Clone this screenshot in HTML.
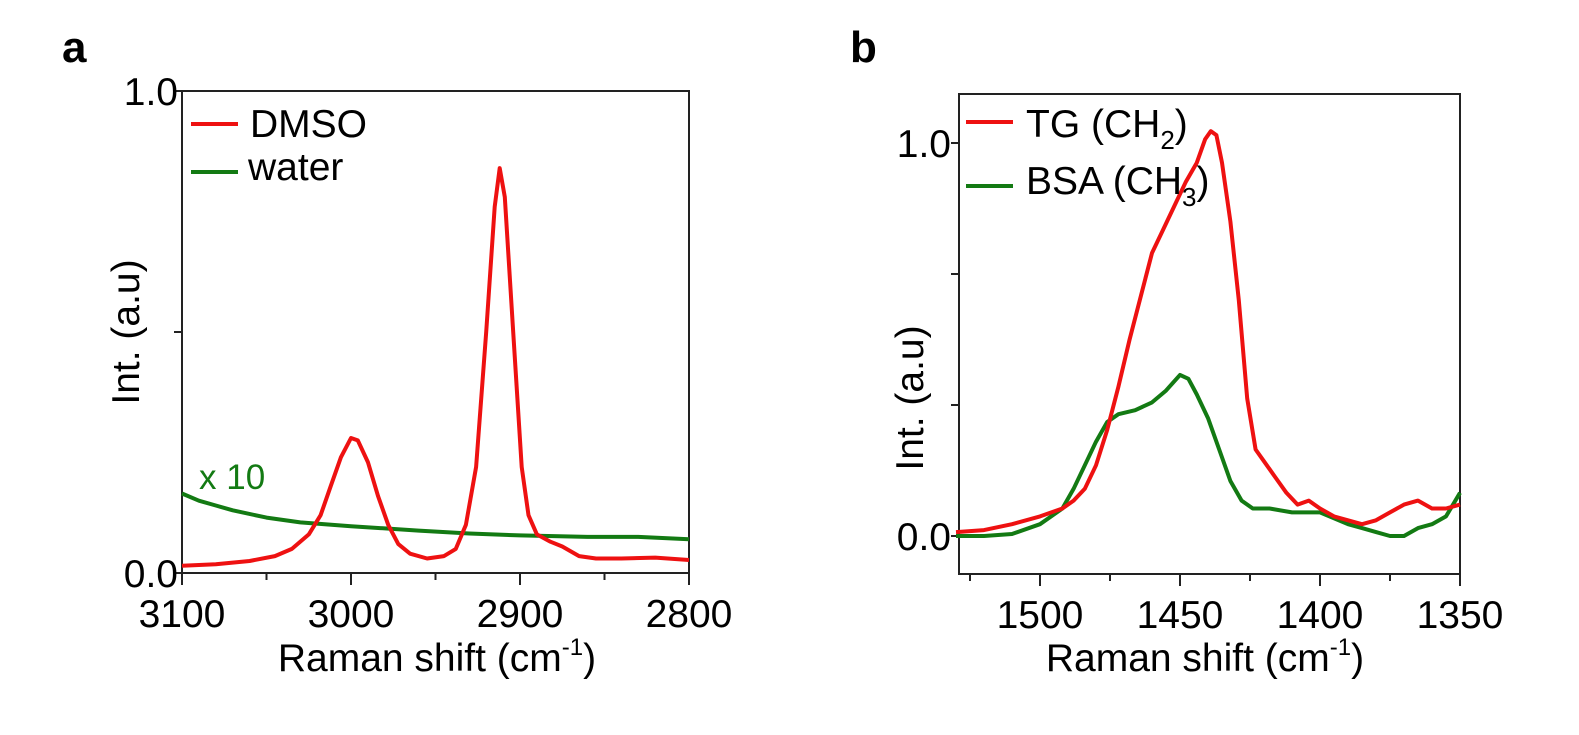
<!DOCTYPE html>
<html><head><meta charset="utf-8"><style>
body{margin:0;background:#fff}
svg{display:block;font-family:"Liberation Sans",Arial,sans-serif}
</style></head><body>
<svg width="1579" height="735" viewBox="0 0 1579 735">
<text x="62" y="62" font-size="44" font-weight="bold">a</text>
<text x="850" y="62" font-size="44" font-weight="bold">b</text>
<g id="pa"></g>
<g id="pb"></g>
</svg>
<script>
const aDmsoX=[3100,3080,3060,3045,3035,3025,3018,3012,3006,3000,2996,2990,2984,2978,2972,2965,2955,2945,2938,2932,2926,2920,2915,2912,2909,2904,2899,2895,2890,2882,2875,2865,2855,2840,2820,2800];
const aDmsoY=[0.015,0.018,0.025,0.035,0.05,0.08,0.12,0.18,0.24,0.28,0.275,0.23,0.16,0.10,0.06,0.04,0.03,0.035,0.05,0.10,0.22,0.50,0.76,0.84,0.78,0.50,0.22,0.12,0.08,0.065,0.055,0.035,0.03,0.03,0.032,0.027];
const aWaterX=[3100,3090,3080,3070,3050,3030,3000,2960,2930,2900,2860,2830,2800];
const aWaterY=[0.165,0.15,0.14,0.13,0.115,0.105,0.097,0.088,0.082,0.078,0.075,0.075,0.07];
const bTgX=[1530,1520,1510,1500,1492,1488,1484,1480,1476,1472,1468,1464,1460,1456,1452,1448,1444,1441,1439,1437,1435,1432,1429,1426,1423,1420,1416,1412,1408,1404,1400,1395,1390,1385,1380,1375,1370,1365,1360,1355,1350];
const bTgY=[0.01,0.015,0.03,0.05,0.07,0.09,0.12,0.18,0.27,0.38,0.50,0.61,0.72,0.78,0.84,0.90,0.95,1.01,1.03,1.02,0.95,0.80,0.60,0.35,0.22,0.19,0.15,0.11,0.08,0.09,0.07,0.05,0.04,0.03,0.04,0.06,0.08,0.09,0.07,0.07,0.08];
const bBsaX=[1530,1520,1510,1500,1492,1488,1484,1480,1476,1472,1466,1460,1455,1450,1447,1444,1440,1436,1432,1428,1424,1418,1410,1400,1395,1390,1385,1380,1375,1370,1365,1360,1355,1350];
const bBsaY=[0.0,0.0,0.005,0.03,0.07,0.12,0.18,0.24,0.29,0.31,0.32,0.34,0.37,0.41,0.40,0.36,0.30,0.22,0.14,0.09,0.07,0.07,0.06,0.06,0.045,0.03,0.02,0.01,0.0,0.0,0.02,0.03,0.05,0.11];
const aXTicks=[3100,3000,2900,2800];
const bXTicks=[1500,1450,1400,1350];

const NS="http://www.w3.org/2000/svg";
const FS=39;
function mk(p,t,at,txt){const e=document.createElementNS(NS,t);for(const k in at)e.setAttribute(k,at[k]);if(txt!==undefined)e.textContent=txt;p.appendChild(e);return e;}
function line(p,xs,ys,sx,sy,col,name){
 const d=xs.map((x,i)=>(i?'L':'M')+sx(x).toFixed(1)+' '+sy(ys[i]).toFixed(1)).join(' ');
 const e=mk(p,'path',{d:d,fill:'none',stroke:col,'stroke-width':4,'stroke-linejoin':'round'});
 
 
}
// Panel a
(function(){
 const g=document.getElementById('pa');
 const L=182,R=689,T=91,B=573;
 const sx=x=>L+(3100-x)/300*(R-L), sy=y=>B-y*(B-T);
 const f=mk(g,'rect',{x:L,y:T,width:R-L,height:B-T,fill:'none',stroke:'#222','stroke-width':2});
 
 [3050,2950,2850].forEach(v=>mk(g,'line',{x1:sx(v),x2:sx(v),y1:B,y2:B+7,stroke:'#222','stroke-width':2}));
 aXTicks.forEach(v=>{mk(g,'line',{x1:sx(v),x2:sx(v),y1:B,y2:B+12,stroke:'#222','stroke-width':2});
  const t=mk(g,'text',{x:sx(v),y:B+54,'font-size':FS,'text-anchor':'middle'},String(v));
  });
 [0,0.5,1].forEach(v=>mk(g,'line',{x1:L-8,x2:L,y1:sy(v),y2:sy(v),stroke:'#222','stroke-width':2}));
 [[0,'0.0'],[1,'1.0']].forEach(([v,s])=>{const t=mk(g,'text',{x:L-4,y:sy(v)+14,'font-size':FS,'text-anchor':'end'},s);
  });
 line(g,aWaterX,aWaterY,sx,sy,'#137a13','series-water');
 line(g,aDmsoX,aDmsoY,sx,sy,'#ee1111','series-dmso');
 const xt=mk(g,'text',{x:437,y:671,'font-size':FS,'text-anchor':'middle'});xt.innerHTML='Raman shift (cm<tspan dy="-16" font-size="24">-1</tspan><tspan dy="16">)</tspan>';
 
 const yt=mk(g,'text',{x:0,y:0,'font-size':FS,'text-anchor':'middle',transform:'translate(139,332) rotate(-90)'},'Int. (a.u)');
 
 mk(g,'line',{x1:191,x2:238,y1:124,y2:124,stroke:'#ee1111','stroke-width':4});
 const l1=mk(g,'text',{x:250,y:137,'font-size':FS},'DMSO');
 mk(g,'line',{x1:191,x2:238,y1:172,y2:172,stroke:'#137a13','stroke-width':4});
 const l2=mk(g,'text',{x:248,y:180,'font-size':FS},'water');
 const x10=mk(g,'text',{x:199,y:489,'font-size':35,fill:'#137a13'},'x 10');
})();
// Panel b
(function(){
 const g=document.getElementById('pb');
 const L=959,R=1460,T=94,B=574,Y0=536,Y1=143;
 const sx=x=>1040+(1500-x)/50*140, sy=y=>Y0-y*(Y0-Y1);
 const f=mk(g,'rect',{x:L,y:T,width:R-L,height:B-T,fill:'none',stroke:'#222','stroke-width':2});
 
 [1525,1475,1425,1375].forEach(v=>mk(g,'line',{x1:sx(v),x2:sx(v),y1:B,y2:B+7,stroke:'#222','stroke-width':2}));
 bXTicks.forEach(v=>{mk(g,'line',{x1:sx(v),x2:sx(v),y1:B,y2:B+12,stroke:'#222','stroke-width':2});
  const t=mk(g,'text',{x:sx(v),y:B+54,'font-size':FS,'text-anchor':'middle'},String(v));
  });
 [0,1/3,2/3,1].forEach(v=>mk(g,'line',{x1:L-8,x2:L,y1:sy(v),y2:sy(v),stroke:'#222','stroke-width':2}));
 [[0,'0.0'],[1,'1.0']].forEach(([v,s])=>{const t=mk(g,'text',{x:L-8,y:sy(v)+14,'font-size':FS,'text-anchor':'end'},s);
  });
 line(g,bBsaX,bBsaY,sx,sy,'#137a13','series-bsa');
 line(g,bTgX,bTgY,sx,sy,'#ee1111','series-tg');
 const xt=mk(g,'text',{x:1205,y:671,'font-size':FS,'text-anchor':'middle'});xt.innerHTML='Raman shift (cm<tspan dy="-16" font-size="24">-1</tspan><tspan dy="16">)</tspan>';
 
 const yt=mk(g,'text',{x:0,y:0,'font-size':FS,'text-anchor':'middle',transform:'translate(923,398) rotate(-90)'},'Int. (a.u)');
 
 mk(g,'line',{x1:966,x2:1013,y1:122,y2:122,stroke:'#ee1111','stroke-width':4});
 const l1=mk(g,'text',{x:1026,y:137,'font-size':FS});l1.innerHTML='TG (CH<tspan dy="12" font-size="26">2</tspan><tspan dy="-12">)</tspan>';
 
 mk(g,'line',{x1:966,x2:1013,y1:186,y2:186,stroke:'#137a13','stroke-width':4});
 const l2=mk(g,'text',{x:1026,y:194,'font-size':FS});l2.innerHTML='BSA (CH<tspan dy="12" font-size="26">3</tspan><tspan dy="-12">)</tspan>';
 
})();
</script>
</body></html>
